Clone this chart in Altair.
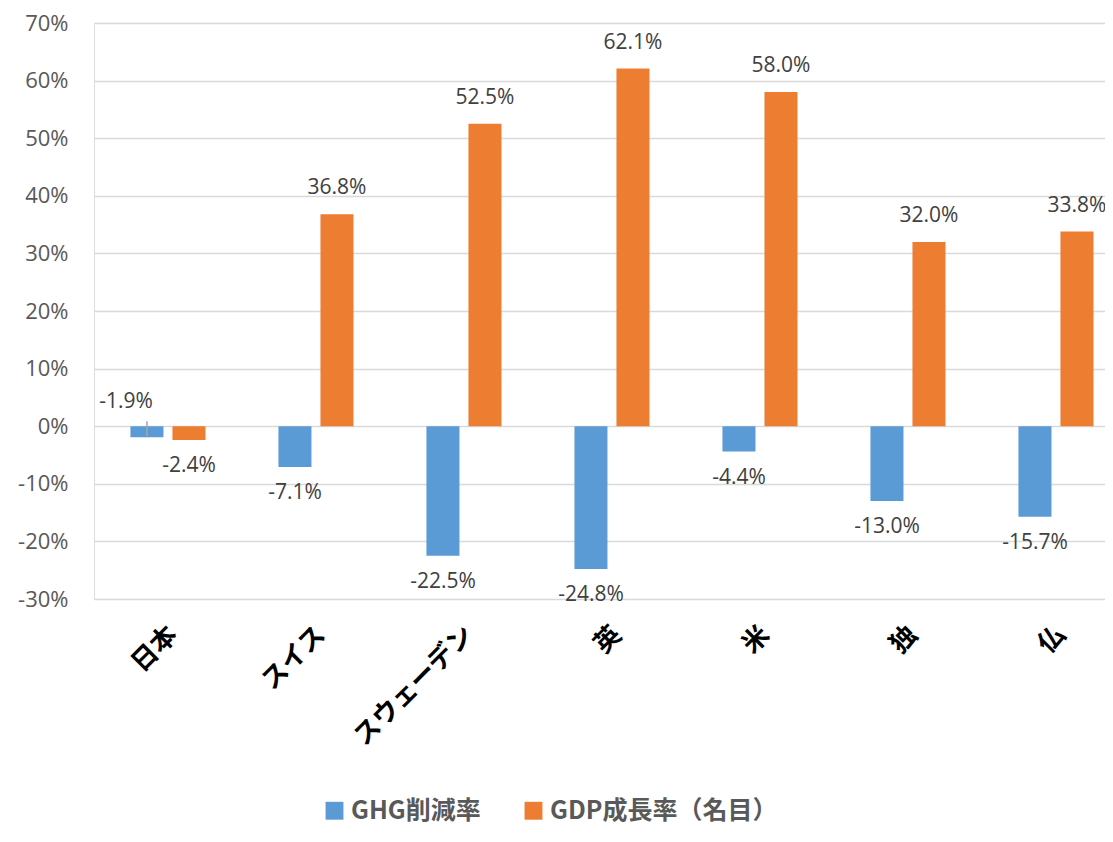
import altair as alt
import pandas as pd

countries = ["日本", "スイス", "スウェーデン", "英", "米", "独", "仏"]
series_names = ["GHG削減率", "GDP成長率（名目）"]
ghg = [-1.9, -7.1, -22.5, -24.8, -4.4, -13.0, -15.7]
gdp = [-2.4, 36.8, 52.5, 62.1, 58.0, 32.0, 33.8]
y_ticks = [-30, -20, -10, 0, 10, 20, 30, 40, 50, 60, 70]
colors = ["#5B9BD5", "#ED7D31"]

rows = []
for c, g, d in zip(countries, ghg, gdp):
    rows.append({"country": c, "series": series_names[0], "value": g})
    rows.append({"country": c, "series": series_names[1], "value": d})
df = pd.DataFrame(rows)

CJK = "Noto Sans CJK JP"
NUM = "Open Sans"

x_enc = alt.X("country:N", sort=countries, title=None,
              scale=alt.Scale(paddingInner=0.493, paddingOuter=0.162, align=0.76, round=False),
              axis=alt.Axis(labelAngle=-45, labelFontSize=26, labelColor="#000000",
                            labelFont=CJK, domain=False, ticks=False, labelPadding=22,
                            labelOffset=-4,
                            grid=False, labelFontWeight="bold", labelLimit=400))
y_enc = alt.Y("value:Q", title=None,
              scale=alt.Scale(domain=[-30, 70], nice=False, zero=False),
              axis=alt.Axis(values=y_ticks, labelExpr="datum.value + '%'",
                            labelFontSize=22, labelColor="#595959", labelFont=NUM,
                            domain=False, ticks=False, labelPadding=26,
                            gridColor="#D9D9D9", gridWidth=1.3))
xo = alt.XOffset("series:N", sort=series_names,
                 scale=alt.Scale(paddingInner=0.214, paddingOuter=0, round=False))
color_enc = alt.Color("series:N", sort=series_names,
                      scale=alt.Scale(domain=series_names, range=colors),
                      legend=alt.Legend(title=None, orient="none", direction="horizontal",
                                        legendX=228, legendY=775, symbolType="square",
                                        symbolSize=320, symbolStrokeWidth=0,
                                        labelFontSize=25, labelFont=CJK,
                                        labelFontWeight="bold", labelColor="#595959",
                                        columnPadding=40, labelOffset=4, labelLimit=500,
                                        symbolOpacity=1))

base = alt.Chart(df).encode(x=x_enc, xOffset=xo)

bars = base.mark_bar().encode(y=y_enc, color=color_enc)

label_expr = "(datum.value < 0 ? '-' : '') + format(abs(datum.value), '.1f') + '%'"
is_special = "datum.country == '日本' && datum.series == 'GHG削減率'"

pos_labels = base.transform_filter("datum.value >= 0").transform_calculate(
    lbl=label_expr).mark_text(dy=-26, fontSize=21, font=NUM, color="#404040",
                              baseline="middle").encode(y="value:Q", text="lbl:N")
neg_labels = base.transform_filter(f"datum.value < 0 && !({is_special})").transform_calculate(
    lbl=label_expr).mark_text(dy=26, fontSize=21, font=NUM, color="#404040",
                              baseline="middle").encode(y="value:Q", text="lbl:N")
special_label = base.transform_filter(is_special).transform_calculate(
    lbl=label_expr).mark_text(dx=-21, dy=-35, fontSize=21, font=NUM, color="#404040",
                              baseline="middle").encode(y="value:Q", text="lbl:N")
leader = base.transform_filter(is_special).mark_rule(
    color="#A6A6A6", strokeWidth=1.5, xOffset=-41, x2Offset=-21, yOffset=-16).encode(
    y="value:Q", y2="value:Q",
    x2=alt.X2("country:N"))

chart = alt.layer(bars, leader, pos_labels, neg_labels, special_label).properties(
    width=1011, height=576,
    autosize=alt.AutoSizeParams(type="none"),
    padding={"left": 86, "top": 15, "right": 0, "bottom": 228},
).configure_view(stroke=None).configure(font=CJK)

chart.save("out.html", embed_options={"renderer": "svg", "actions": False})
